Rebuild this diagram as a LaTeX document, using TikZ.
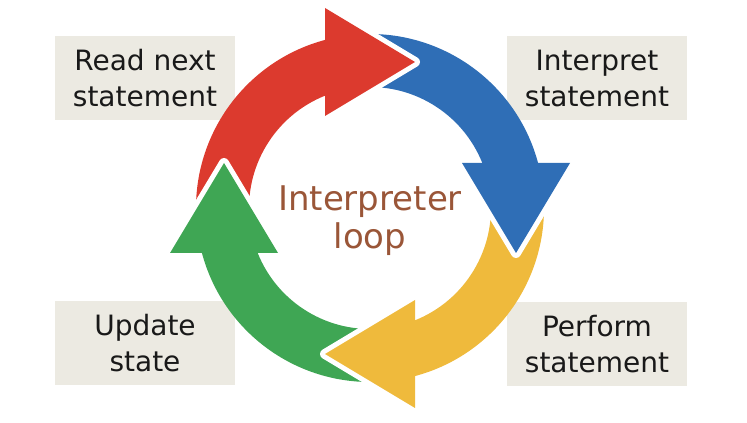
\documentclass[tikz,border=0pt]{standalone}
\usepackage{fontspec}
\setmainfont{DejaVu Sans}
\usetikzlibrary{calc, positioning}

\definecolor{loopred}{HTML}{DC3A2E}
\definecolor{loopblue}{HTML}{2F6EB6}
\definecolor{loopyellow}{HTML}{EFBA3C}
\definecolor{loopgreen}{HTML}{3FA654}
\definecolor{boxbeige}{HTML}{ECEAE2}
\definecolor{loopbrown}{HTML}{9A5638}

\begin{document}
\begin{tikzpicture}[x=1pt, y=1pt,
  stepbox/.style={fill=boxbeige, minimum width=180pt, minimum height=84pt, inner sep=0pt,
    align=center, text=black!90, font=\fontsize{28}{36}\selectfont},
  headgap/.style={preaction={draw=white, line width=10pt, line join=round}}]
\useasboundingbox (0,0) rectangle (747,423);
\def\rout{174}
\def\rin{121}
\def\hbase{45}
\def\tailang{96}
\pgfmathsetmacro{\aout}{asin(\hbase/\rout)}
\pgfmathsetmacro{\ain}{asin(\hbase/\rin)}

\coordinate (C) at (370,215);

\node[stepbox] (readbox) at (145,345) {Read next\\statement};
\node[stepbox] (interpbox) at (597,345) {Interpret\\statement};
\node[stepbox] (updatebox) at (145,80) {Update\\state};
\node[stepbox] (performbox) at (597,79) {Perform\\statement};

\foreach \ang/\col in {0/loopblue, -90/loopyellow, 180/loopgreen, 90/loopred} {
  \begin{scope}[shift={(C)}, rotate=\ang]
    \fill[\col] (\tailang:\rout) arc[start angle=\tailang, end angle=\aout, radius=\rout]
      -- (\ain:\rin) arc[start angle=\ain, end angle=\tailang, radius=\rin] -- cycle;
  \end{scope}
}

\foreach \ang/\col in {0/loopblue, -90/loopyellow, 180/loopgreen, 90/loopred} {
  \begin{scope}[shift={(C)}, rotate=\ang]
    \fill[\col, headgap] (92,\hbase) -- (146,-\hbase) -- (200,\hbase);
  \end{scope}
}

\node[text=loopbrown, align=center, font=\fontsize{34}{38}\selectfont] (looplabel) at (370,202) {Interpreter\\loop};
\end{tikzpicture}
\end{document}
